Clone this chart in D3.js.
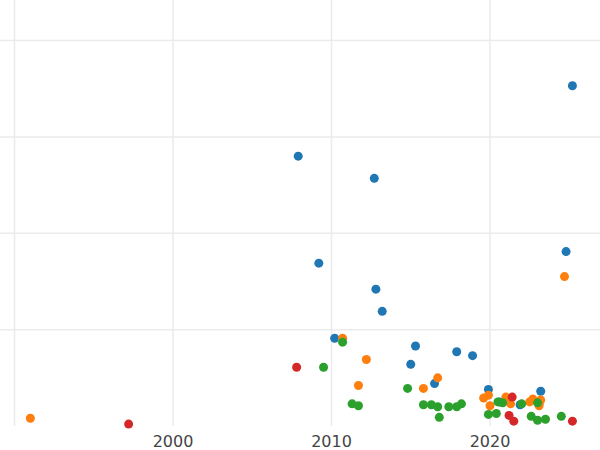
<!DOCTYPE html><html><head><meta charset="utf-8">
<script src="https://cdn.jsdelivr.net/npm/d3@7"></script>
<style>body{margin:0;background:#fff}</style></head><body>
<svg id="c" width="600" height="450"></svg>
<script>
const seriesNames=["blue","orange","green","red"];
const seriesColors=["#1f77b4","#ff7f0e","#2ca02c","#d62728"];
const blueX=[2025.2,2007.9,2012.7,2009.2,2012.8,2013.2,2024.8,2010.2,2015.3,2017.9,2018.9,2015.0,2016.5,2019.9,2023.2,2020.6,2021.9,2023.1];
const blueY=[3.53,2.80,2.57,1.69,1.42,1.19,1.81,0.91,0.83,0.77,0.73,0.64,0.44,0.38,0.36,0.25,0.22,0.24];
const orangeX=[1991.0,2010.7,2012.2,2011.7,2016.7,2015.8,2024.7,2019.6,2019.9,2021.0,2021.3,2022.5,2023.2,2023.1,2020.0,2022.7];
const orangeY=[0.08,0.91,0.69,0.42,0.50,0.39,1.55,0.29,0.32,0.30,0.23,0.25,0.27,0.21,0.21,0.28];
const greenX=[2009.5,2010.7,2011.3,2011.7,2014.8,2015.8,2016.3,2016.7,2016.8,2017.4,2017.9,2018.2,2019.9,2020.4,2020.5,2020.8,2022.0,2022.6,2023.0,2023.5,2024.5,2023.0];
const greenY=[0.61,0.87,0.23,0.21,0.39,0.22,0.22,0.20,0.09,0.20,0.20,0.23,0.12,0.13,0.25,0.24,0.23,0.10,0.06,0.07,0.10,0.24];
const redX=[1997.2,2007.8,2021.4,2021.2,2021.5,2025.2];
const redY=[0.02,0.61,0.30,0.11,0.05,0.05];
const xTicks=[1990,2000,2010,2020];
const yTicks=[1,2,3,4];
const allX=[blueX,orangeX,greenX,redX], allY=[blueY,orangeY,greenY,redY];
const svg=d3.select("#c");
const x=d3.scaleLinear().domain([1990,2020]).range([14.5,490]);
const y=d3.scaleLinear().domain([0,4]).range([426,40.5]);
svg.append("g").selectAll("line").data(yTicks).join("line")
 .attr("x1",0).attr("x2",600).attr("y1",d=>y(d)).attr("y2",d=>y(d))
 .attr("stroke","#ebebeb").attr("stroke-width",1.5);
svg.append("g").selectAll("line").data(xTicks).join("line")
 .attr("x1",d=>x(d)).attr("x2",d=>x(d)).attr("y1",0).attr("y2",426)
 .attr("stroke","#ebebeb").attr("stroke-width",1.5);
svg.append("g").selectAll("text").data(xTicks.filter(d=>d>=2000)).join("text")
 .attr("x",d=>x(d)).attr("y",447).attr("text-anchor","middle")
 .attr("font-family","DejaVu Sans").attr("font-size",16).attr("fill","#444").text(d=>d);
allX.forEach((xs,i)=>{
 svg.append("g").selectAll("circle").data(xs.map((v,j)=>[v,allY[i][j]])).join("circle")
  .attr("cx",d=>x(d[0])).attr("cy",d=>y(d[1])).attr("r",4.5).attr("fill",seriesColors[i]);
});
</script></body></html>
